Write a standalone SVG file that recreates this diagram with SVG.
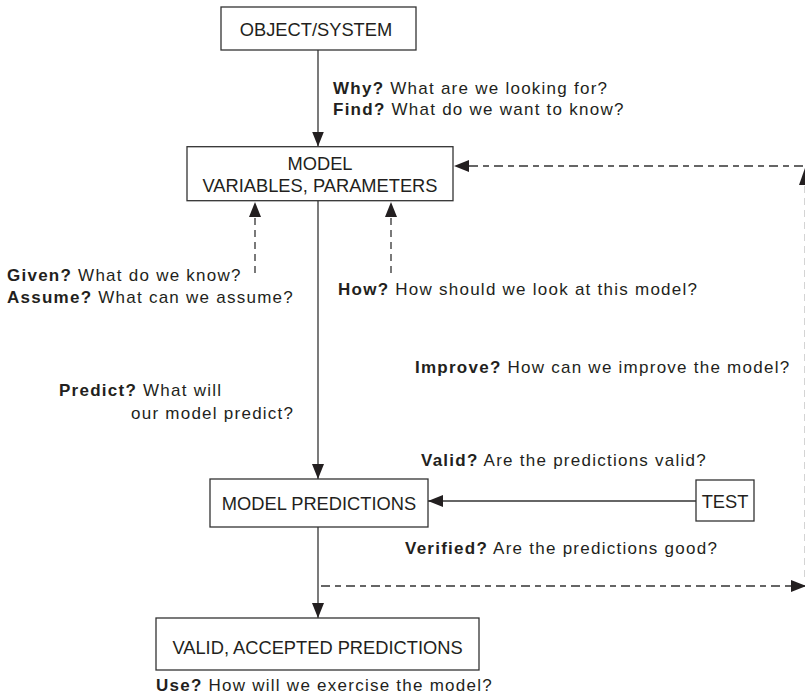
<svg xmlns="http://www.w3.org/2000/svg" width="805" height="699" viewBox="0 0 805 699">
<style>
.box{fill:#fff;stroke:#333;stroke-width:1.3}
.bt{font-family:"Liberation Sans",Arial,sans-serif;font-size:18.3px;fill:#231f20;text-anchor:middle}
.lb{font-family:"Liberation Sans",Arial,sans-serif;font-size:17px;letter-spacing:1.25px;fill:#231f20}
.lb .b{font-weight:bold}
.ln{fill:none;stroke:#333;stroke-width:1.3}
.dl{fill:none;stroke:#333;stroke-width:1.3;stroke-dasharray:9 5 6 5}
.dv{fill:none;stroke:#333;stroke-width:1.3;stroke-dasharray:7 5}
.ah{fill:#231f20}
</style>
<defs>
<marker id="arr" markerUnits="userSpaceOnUse" markerWidth="15" markerHeight="12" refX="15" refY="6" orient="auto">
<path d="M0,0 L15,6 L0,12 z" fill="#231f20"/>
</marker>
</defs>
<rect width="805" height="699" fill="#fff"/>

<g id="connectors">
<line class="ln" x1="318" y1="50" x2="318" y2="146.5" marker-end="url(#arr)"/>
<line class="ln" x1="318" y1="201" x2="318" y2="479" marker-end="url(#arr)"/>
<line class="ln" x1="318" y1="527" x2="318" y2="618" marker-end="url(#arr)"/>
<line class="ln" x1="696" y1="501" x2="428" y2="501" marker-end="url(#arr)"/>
<line class="dv" x1="255" y1="273" x2="255" y2="202" marker-end="url(#arr)"/>
<line class="dv" x1="391" y1="273" x2="391" y2="202" marker-end="url(#arr)"/>
<line class="dl" x1="803" y1="166" x2="454" y2="166" marker-end="url(#arr)"/>
<line class="dl" x1="321" y1="586" x2="806" y2="586" marker-end="url(#arr)"/>
<line x1="804.5" y1="186" x2="804.5" y2="580" stroke="#d4d4d4" stroke-width="1" stroke-dasharray="7 5"/>
<polygon class="ah" points="805,168 799,185 811,185"/>
</g>

<g id="object-system">
<rect class="box" x="221" y="7" width="195" height="43"/>
<text class="bt" x="316" y="35.5">OBJECT/SYSTEM</text>
</g>

<g id="model">
<rect class="box" x="187" y="146.7" width="266" height="54"/>
<text class="bt" x="320" y="170">MODEL</text>
<text class="bt" x="320" y="192">VARIABLES, PARAMETERS</text>
</g>

<g id="model-predictions">
<rect class="box" x="210" y="479" width="218" height="48"/>
<text class="bt" x="319" y="510">MODEL PREDICTIONS</text>
</g>

<g id="test">
<rect class="box" x="696" y="480" width="58" height="41"/>
<text class="bt" x="725" y="508">TEST</text>
</g>

<g id="valid-accepted">
<rect class="box" x="156" y="618" width="323" height="52"/>
<text class="bt" x="317.5" y="654">VALID, ACCEPTED PREDICTIONS</text>
</g>

<g id="labels">
<text class="lb" x="333" y="94"><tspan class="b">Why?</tspan> What are we looking for?</text>
<text class="lb" x="333" y="115"><tspan class="b">Find?</tspan> What do we want to know?</text>
<text class="lb" x="7" y="281"><tspan class="b">Given?</tspan> What do we know?</text>
<text class="lb" x="7" y="303"><tspan class="b">Assume?</tspan> What can we assume?</text>
<text class="lb" x="338" y="295"><tspan class="b">How?</tspan> How should we look at this model?</text>
<text class="lb" x="415" y="373"><tspan class="b">Improve?</tspan> How can we improve the model?</text>
<text class="lb" x="59" y="396"><tspan class="b">Predict?</tspan> What will</text>
<text class="lb" x="131" y="419">our model predict?</text>
<text class="lb" x="421" y="466"><tspan class="b">Valid?</tspan> Are the predictions valid?</text>
<text class="lb" x="405" y="554"><tspan class="b">Verified?</tspan> Are the predictions good?</text>
<text class="lb" x="156" y="691"><tspan class="b">Use?</tspan> How will we exercise the model?</text>
</g>
</svg>
